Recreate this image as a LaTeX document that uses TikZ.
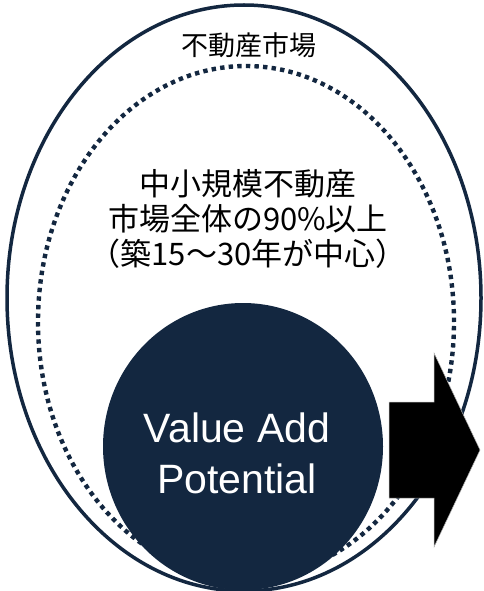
\documentclass[tikz,border=0pt]{standalone}
\usepackage{fontspec}
\setmainfont{Liberation Sans}
\newfontfamily\cjk{Noto Sans CJK JP}
\usetikzlibrary{shapes.geometric}
\definecolor{navy}{RGB}{19,39,64}
\begin{document}
\begin{tikzpicture}[x=1pt,y=-1pt,
  outerring/.style={ellipse,draw=navy,line width=3.5pt,inner sep=0pt},
  dotring/.style={ellipse,draw=navy,line width=4.4pt,dash pattern=on 4.4pt off 4.2pt,inner sep=0pt},
  vacircle/.style={ellipse,fill=navy,inner sep=0pt},
  jplabel/.style={text=black,align=center,inner sep=0pt},
  valabel/.style={text=white,align=center,inner sep=0pt,font=\fontsize{41}{51}\selectfont}
]
\useasboundingbox (0,0) rectangle (484,591);
\node[outerring,minimum width=474pt,minimum height=586pt] (outer) at (244,298) {};
\node[dotring,minimum width=416pt,minimum height=512pt] (inner) at (246,322) {};
\node[vacircle,minimum width=280pt,minimum height=287pt] (circ) at (243,446.5) {};
\node[jplabel,font=\cjk\fontsize{27}{32}\selectfont] (market) at (249,45) {不動産市場};
\node[jplabel,font=\cjk\fontsize{31}{35}\selectfont] (share) at (248,219) {中小規模不動産\\市場全体の90\%以上\\（築15～30年が中心）};
\node[valabel] (vap) at (237,453) {Value Add\\Potential};
\fill[black,draw=gray!60,line width=0.5pt] (389,402) -- (434,402) -- (434,353) -- (480,450) -- (434,547) -- (434,498) -- (389,498) -- cycle;
\end{tikzpicture}
\end{document}
